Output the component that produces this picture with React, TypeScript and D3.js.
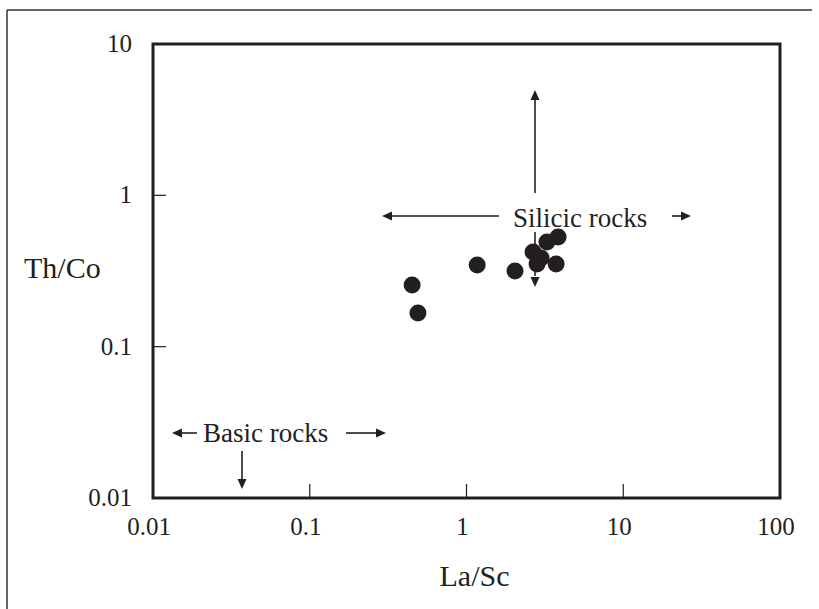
import React from "react";
import * as d3 from "d3";

const laSc = [0.45, 0.49, 1.17, 2.04, 2.66, 2.82, 2.99, 3.26, 3.73, 3.84];
const thCo = [0.256, 0.167, 0.347, 0.316, 0.422, 0.352, 0.385, 0.492, 0.352, 0.531];
const xTicks = [0.01, 0.1, 1, 10, 100];
const yTicks = [0.01, 0.1, 1, 10];
const xTickLabels = ["0.01", "0.1", "1", "10", "100"];
const yTickLabels = ["0.01", "0.1", "1", "10"];

const W = 819;
const H = 609;
const L = 153, R = 780, T = 44, B = 498;

export default function App() {
  const x = d3.scaleLog().domain([0.01, 100]).range([L, R]);
  const y = d3.scaleLog().domain([0.01, 10]).range([B, T]);
  const font = "Liberation Serif, Times New Roman, serif";
  const col = "#231f20";

  const arrow = (x1: number, y1: number, x2: number, y2: number, key: string) => {
    const ang = Math.atan2(y2 - y1, x2 - x1);
    const hl = 10, hw = 4.5;
    const bx = x2 - hl * Math.cos(ang), by = y2 - hl * Math.sin(ang);
    const px = -Math.sin(ang) * hw, py = Math.cos(ang) * hw;
    return (
      <g key={key}>
        <line x1={x1} y1={y1} x2={bx} y2={by} stroke={col} strokeWidth={1.6} />
        <path d={`M${x2},${y2}L${bx + px},${by + py}L${bx - px},${by - py}Z`} fill={col} />
      </g>
    );
  };

  const ts = { fontFamily: font };

  return (
    <svg width={W} height={H} style={{ position: "absolute", left: 0, top: 0, background: "#fff" }}>
      <rect x={0} y={0} width={W} height={H} fill="#fff" />
      {/* outer frame */}
      <line x1={7} y1={10} x2={812} y2={10} stroke="#333" strokeWidth={1.5} />
      <line x1={7} y1={10} x2={7} y2={609} stroke="#333" strokeWidth={1.5} />
      {/* plot frame */}
      <rect x={L} y={T} width={R - L} height={B - T} fill="none" stroke={col} strokeWidth={3} />
      {xTicks.slice(1, -1).map((t) => (
        <line key={"xt" + t} x1={x(t)} x2={x(t)} y1={B} y2={B - 14} stroke={col} strokeWidth={1.2} />
      ))}
      {yTicks.slice(1, -1).map((t) => (
        <line key={"yt" + t} x1={L} x2={L + 13} y1={y(t)} y2={y(t)} stroke={col} strokeWidth={1.2} />
      ))}
      {xTicks.map((t, i) => (
        <text key={"xl" + t} x={x(t) - 4} y={B + 37} textAnchor="middle" style={ts} fontSize={25} fill={col}>
          {xTickLabels[i]}
        </text>
      ))}
      {yTicks.map((t, i) => (
        <text key={"yl" + t} x={L - 21} y={y(t) + 8} textAnchor="end" style={ts} fontSize={25} fill={col}>
          {yTickLabels[i]}
        </text>
      ))}
      <text x={x(1) + 8} y={586} textAnchor="middle" style={ts} fontSize={30} fill={col}>La/Sc</text>
      <text x={24} y={278} textAnchor="start" style={ts} fontSize={30} fill={col}>Th/Co</text>

      {/* Silicic rocks annotation */}
      {arrow(535, 284, 535, 287, "sd")}
      <line x1={535} y1={232} x2={535} y2={276} stroke={col} strokeWidth={1.6} />
      <rect x={508} y={200} width={148} height={30} fill="#fff" />
      {arrow(535, 193, 535, 90, "su")}
      {arrow(499, 216, 382, 216, "sl")}
      {arrow(672, 216, 691, 216, "sr")}
      <text x={513} y={227} style={ts} fontSize={27} fill={col}>Silicic rocks</text>

      {/* Basic rocks annotation */}
      {arrow(197, 433, 172, 433, "bl")}
      {arrow(346, 433, 386, 433, "br")}
      {arrow(242, 451, 242, 489, "bd")}
      <text x={203} y={442} style={ts} fontSize={27} fill={col}>Basic rocks</text>

      {/* data points */}
      {laSc.map((v, i) => (
        <circle key={"p" + i} cx={x(v)} cy={y(thCo[i])} r={8.5} fill={col} />
      ))}
    </svg>
  );
}
